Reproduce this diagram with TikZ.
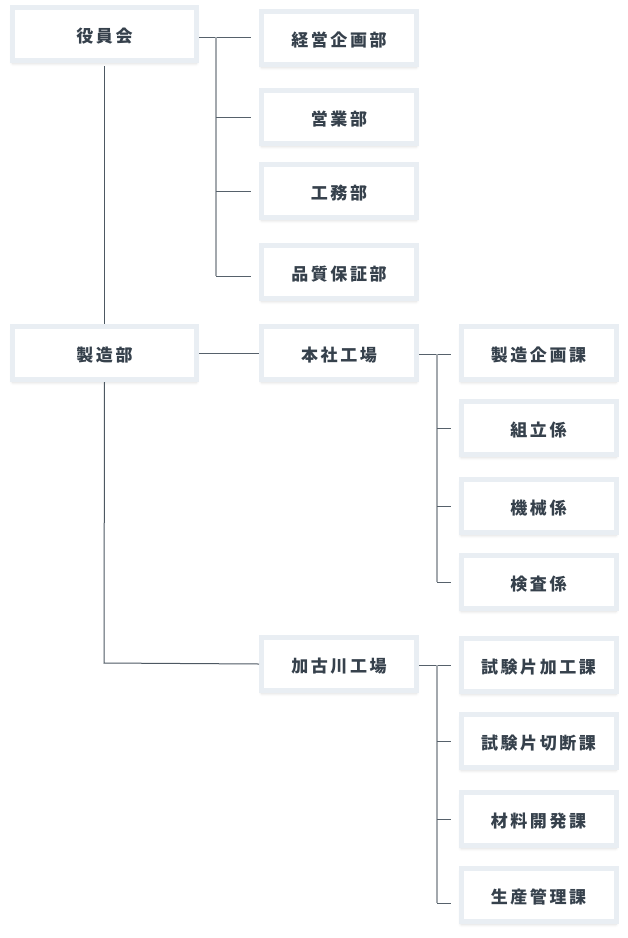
\documentclass[tikz,border=0pt]{standalone}
\usepackage{fontspec}
\newfontfamily\jp{Noto Sans CJK JP}[LetterSpace=15]
\usetikzlibrary{shadows.blur}
\definecolor{txt}{HTML}{36414C}
\definecolor{boxedge}{HTML}{E9EEF3}
\definecolor{hline}{HTML}{56616B}
\definecolor{vline}{HTML}{A3A8AD}
\definecolor{mline}{HTML}{4D5862}
\tikzset{
  x=1pt,y=1pt,
  orgbox/.style={draw=boxedge, line width=5pt, fill=white, text=txt,
    minimum height=53pt, inner sep=0pt, text height=17pt, text depth=0pt,
    font=\jp\bfseries\fontsize{17}{20}\selectfont,
    blur shadow={shadow xshift=0pt, shadow yshift=-3pt, shadow blur steps=6, shadow opacity=14, shadow blur radius=3pt}},
  wide/.style={orgbox, minimum width=184pt},
  narrow/.style={orgbox, minimum width=155pt},
  hbranch/.style={draw=hline, line width=0.9pt, shorten >=8pt},
  vbranch/.style={draw=vline, line width=1.1pt},
  mainline/.style={draw=mline, line width=1pt},
}
\begin{document}
\begin{tikzpicture}
\useasboundingbox (0,0) rectangle (628,-938);
% column 1
\node[wide] (yakuin) at (104.5,-34) {役員会};
\node[wide] (seizo) at (104.5,-353) {製造部};
% column 2
\node[narrow] (keiei) at (339,-38) {経営企画部};
\node[narrow] (eigyo) at (339,-117) {営業部};
\node[narrow] (komu) at (339,-191) {工務部};
\node[narrow] (hinshitsu) at (339,-272) {品質保証部};
\node[narrow] (honsha) at (339,-353) {本社工場};
\node[narrow] (kakogawa) at (339,-664) {加古川工場};
% column 3
\node[narrow] (c1) at (538.5,-353) {製造企画課};
\node[narrow] (c2) at (538.5,-428) {組立係};
\node[narrow] (c3) at (538.5,-506) {機械係};
\node[narrow] (c4) at (538.5,-582) {検査係};
\node[narrow] (d1) at (538.5,-665) {試験片加工課};
\node[narrow] (d2) at (538.5,-741) {試験片切断課};
\node[narrow] (d3) at (538.5,-819) {材料開発課};
\node[narrow] (d4) at (538.5,-895) {生産管理課};
% branch coordinates
\coordinate (b1) at (216,-37);
\coordinate (b1e) at (216,-276);
\coordinate (b2) at (437,-354);
\coordinate (b2e) at (437,-582);
\coordinate (b3) at (437,-665);
\coordinate (b3e) at (437,-903);
\coordinate (m1) at (104,-663);
% main lines
\draw[mainline] (yakuin.south) ++(0,-3) -- (seizo.north);
\draw[mainline] (seizo.south) -- (m1) -- (kakogawa.west);
\draw[hbranch, shorten >=0pt] (seizo.east) -- (honsha.west);
% group 1
\draw[hbranch] (yakuin.east |- b1) -- (keiei.west |- b1);
\draw[vbranch] (b1) -- (b1e);
\draw[hbranch] (b1 |- eigyo.west) -- (eigyo.west);
\draw[hbranch] (b1 |- komu.west) -- (komu.west);
\draw[hbranch] (b1e) -- (hinshitsu.west |- b1e);
% group 2
\draw[hbranch] (honsha.east |- b2) -- (c1.west |- b2);
\draw[vbranch] (b2) -- (b2e);
\draw[hbranch] (b2 |- c2.west) -- (c2.west);
\draw[hbranch] (b2 |- c3.west) -- (c3.west);
\draw[hbranch] (b2e) -- (c4.west |- b2e);
% group 3
\draw[hbranch] (kakogawa.east |- b3) -- (d1.west |- b3);
\draw[vbranch] (b3) -- (b3e);
\draw[hbranch] (b3 |- d2.west) -- (d2.west);
\draw[hbranch] (b3 |- d3.west) -- (d3.west);
\draw[hbranch] (b3e) -- (d4.west |- b3e);
\end{tikzpicture}
\end{document}
